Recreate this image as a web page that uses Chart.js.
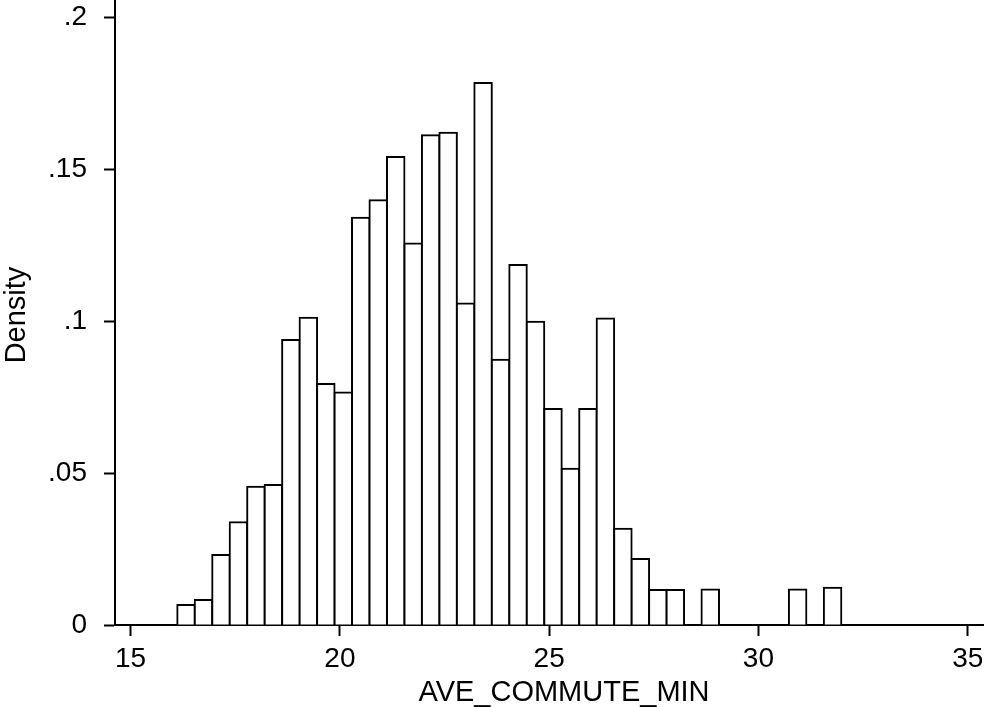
<!DOCTYPE html>
<html>
<head>
<meta charset="utf-8">
<title>AVE_COMMUTE_MIN histogram</title>
<script src="https://cdn.jsdelivr.net/npm/chart.js@4/dist/chart.umd.min.js"></script>
<style>
  html, body { margin: 0; padding: 0; background: #fff; }
  #wrap { width: 984px; height: 707px; position: relative; }
</style>
</head>
<body>
<div id="wrap"><canvas id="hist"></canvas></div>
<script>
// ==== DATA ====
const binStart = 16.115;   // left edge of the first bin
const binWidth = 0.4175;   // width of each bin
const density = [
  0.0066, 0.0082, 0.0230, 0.0338, 0.0455, 0.0461, 0.0938, 0.1011, 0.0793, 0.0765,
  0.1340, 0.1398, 0.1540, 0.1256, 0.1612, 0.1620, 0.1058, 0.1784, 0.0873, 0.1185,
  0.0998, 0.0711, 0.0514, 0.0711, 0.1009, 0.0317, 0.0217, 0.0115, 0.0115, 0,
  0.0117, 0, 0, 0, 0, 0.0117, 0, 0.0123
];
const xTicks = [15, 20, 25, 30, 35];
const yTicks = [0, 0.05, 0.1, 0.15, 0.2];
const xTitle = "AVE_COMMUTE_MIN";
const yTitle = "Density";

// ==== BUILD POINTS ====
const points = density.map((d, i) => ({ x: binStart + binWidth * (i + 0.5), y: d }));

const FAMILY = "'Liberation Sans', Arial, sans-serif";
const tickFont = { family: FAMILY, size: 28 };

// axis titles, placed like the Stata layout
const axisTitles = {
  id: "axisTitles",
  afterDraw(chart) {
    const ctx = chart.ctx;
    ctx.save();
    ctx.fillStyle = "#000";
    ctx.font = "29px " + FAMILY;
    ctx.textAlign = "center";
    ctx.textBaseline = "alphabetic";
    ctx.fillText(xTitle, 564, 701);
    ctx.translate(25, 315);
    ctx.rotate(-Math.PI / 2);
    ctx.fillText(yTitle, 0, 0);
    ctx.restore();
  }
};

const noPad = s => { s.paddingTop = 0; s.paddingBottom = 0; s.paddingLeft = 0; s.paddingRight = 0; };

// ==== CHART ====
new Chart(document.getElementById("hist"), {
  type: "bar",
  data: {
    datasets: [{
      data: points,
      backgroundColor: "#fff",
      borderColor: "#000",
      borderWidth: 2,
      inflateAmount: 1,
      barPercentage: 1,
      categoryPercentage: 1
    }]
  },
  plugins: [axisTitles],
  options: {
    responsive: true,
    maintainAspectRatio: false,
    animation: false,
    layout: { padding: 0 },
    plugins: { legend: { display: false }, tooltip: { enabled: false } },
    scales: {
      x: {
        type: "linear",
        min: 14.627,
        max: 35.389,
        offset: false,
        z: 1,
        grid: { offset: false, drawOnChartArea: false, tickLength: 11, tickWidth: 2, tickColor: "#000" },
        border: { display: true, color: "#000", width: 2 },
        afterBuildTicks: s => { s.ticks = xTicks.map(v => ({ value: v })); },
        ticks: { color: "#000", font: tickFont, padding: 6, maxRotation: 0, autoSkip: false },
        afterFit: s => { s.height = 82; noPad(s); }
      },
      y: {
        min: 0,
        max: 0.2057,
        z: 1,
        grid: { drawOnChartArea: false, tickLength: 11, tickWidth: 2, tickColor: "#000" },
        border: { display: true, color: "#000", width: 2 },
        afterBuildTicks: s => { s.ticks = yTicks.map(v => ({ value: v })); },
        ticks: {
          color: "#000",
          font: tickFont,
          padding: 17,
          callback: v => v === 0 ? "0" : String(+v.toFixed(2)).replace(/^0/, "")
        },
        afterFit: s => { s.width = 115; noPad(s); }
      }
    }
  }
});
</script>
</body>
</html>
